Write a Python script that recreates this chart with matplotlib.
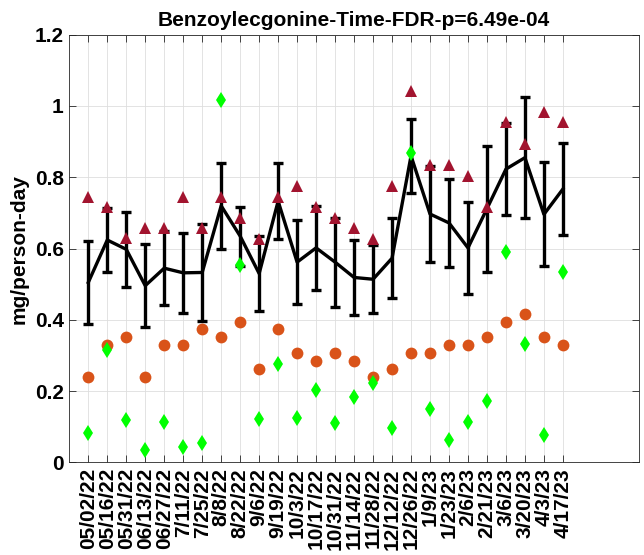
import matplotlib
matplotlib.use('Agg')
import matplotlib.pyplot as plt
from matplotlib.ticker import FormatStrFormatter
import numpy as np

plt.rcParams['font.family'] = ['Liberation Sans', 'DejaVu Sans']
plt.rcParams['font.weight'] = 'bold'

# 采样日期
dates = ['05/02/22', '05/16/22', '05/31/22', '06/13/22', '06/27/22', '7/11/22', '7/25/22', '8/8/22',
         '8/22/22', '9/6/22', '9/19/22', '10/3/22', '10/17/22', '10/31/22', '11/14/22', '11/28/22',
         '12/12/22', '12/26/22', '1/9/23', '1/23/23', '2/6/23', '2/21/23', '3/6/23', '3/20/23',
         '4/3/23', '4/17/23']

# 平均值和误差
mean_vals = [0.505, 0.624, 0.598, 0.496, 0.545, 0.532, 0.533, 0.720, 0.635, 0.530, 0.733, 0.562, 0.602,
             0.562, 0.519, 0.514, 0.573, 0.860, 0.697, 0.672, 0.602, 0.712, 0.823, 0.855, 0.696, 0.767]
err_vals = [0.117, 0.091, 0.105, 0.116, 0.103, 0.112, 0.135, 0.120, 0.083, 0.105, 0.107, 0.117, 0.117,
            0.125, 0.105, 0.096, 0.112, 0.103, 0.134, 0.123, 0.130, 0.177, 0.130, 0.170, 0.146, 0.128]

# 三个站点
site_a = [0.746, 0.716, 0.629, 0.657, 0.657, 0.746, 0.657, 0.746, 0.687, 0.627, 0.746, 0.776, 0.716,
          0.687, 0.657, 0.627, 0.776, 1.043, 0.834, 0.834, 0.805, 0.716, 0.954, 0.894, 0.984, 0.954]
site_b = [0.241, 0.330, 0.351, 0.241, 0.330, 0.330, 0.374, 0.351, 0.395, 0.263, 0.374, 0.307, 0.285,
          0.307, 0.285, 0.241, 0.263, 0.307, 0.307, 0.330, 0.330, 0.351, 0.395, 0.417, 0.351, 0.330]
site_c = [0.084, 0.316, 0.119, 0.035, 0.113, 0.043, 0.056, 1.017, 0.554, 0.121, 0.276, 0.126, 0.203,
          0.112, 0.185, 0.222, 0.096, 0.869, 0.149, 0.063, 0.113, 0.173, 0.591, 0.332, 0.077, 0.535]

x = np.arange(1, len(dates) + 1)

fig = plt.figure(figsize=(6.44, 5.55), dpi=100)
ax = fig.add_axes([0.1076, 0.1667, 0.8844, 0.7708])

# 画误差线
ax.errorbar(x, mean_vals, yerr=err_vals, color='black', linewidth=2.4, elinewidth=2.4,
            capsize=3.5, capthick=2.4, zorder=3)
ax.plot(x, site_a, '^', color='#A2142F', markersize=8, markeredgewidth=0, zorder=4)
ax.plot(x, site_b, 'o', color='#D95319', markersize=8.5, markeredgewidth=0, zorder=4)
ax.plot(x, site_c, 'd', color='#00FF00', markersize=8, markeredgewidth=0, zorder=5)

ax.set_xlim(0, 30)
ax.set_ylim(0, 1.2)
ax.set_xticks(x)
ax.set_xticklabels(dates, rotation=90, fontsize=15, fontweight='bold')
ax.set_yticks(np.arange(0, 1.21, 0.2))
ax.yaxis.set_major_formatter(FormatStrFormatter('%g'))
for lab in ax.get_yticklabels():
    lab.set_fontsize(15)
    lab.set_fontweight('bold')

ax.tick_params(direction='in', length=5, width=0.6, color='#262626', top=True, right=True, pad=4)
ax.grid(True, color='#dedede', linewidth=0.6)
ax.set_axisbelow(True)
for sp in ax.spines.values():
    sp.set_color('#262626')
    sp.set_linewidth(0.6)

ax.set_ylabel('mg/person-day', fontsize=15, fontweight='bold')
ax.set_title('Benzoylecgonine-Time-FDR-p=6.49e-04', fontsize=15, fontweight='bold', pad=6)

plt.savefig('out.png', dpi=100)
